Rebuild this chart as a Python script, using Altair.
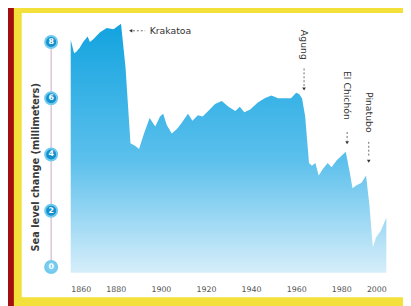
import altair as alt
import pandas as pd

# ---- data ----
years = [1860, 1861.5, 1862.5, 1864, 1865.5, 1867.5, 1868.5, 1870, 1873, 1876, 1879, 1882.3,
         1884.3, 1886.5, 1888.7, 1890.3, 1892.5, 1895, 1897.5, 1899.6, 1901, 1902.6, 1904.8,
         1907, 1909, 1912, 1914, 1916.4, 1918.5, 1921, 1924, 1927, 1930, 1933, 1935, 1937,
         1939.6, 1943, 1946, 1949, 1952, 1955, 1957.7, 1960, 1961.3, 1962.6, 1964, 1965.7,
         1967, 1968.5, 1970, 1972, 1974, 1975.7, 1978, 1980, 1982, 1983.8, 1985, 1986.6,
         1989, 1991, 1992.5, 1994, 1995.4, 1997.6, 2000]
values = [8.07, 7.6, 7.65, 7.8, 8.0, 8.2, 8.0, 8.1, 8.35, 8.5, 8.45, 8.65,
          7.1, 4.4, 4.3, 4.2, 4.75, 5.3, 5.0, 5.35, 5.45, 5.05, 4.75,
          4.9, 5.1, 5.45, 5.2, 5.4, 5.35, 5.55, 5.8, 5.9, 5.7, 5.55, 5.7, 5.5,
          5.6, 5.85, 6.0, 6.1, 6.0, 6.0, 6.0, 6.2, 6.15, 6.0, 5.35, 3.7,
          3.6, 3.7, 3.25, 3.5, 3.7, 3.55, 3.8, 3.95, 4.1, 3.35, 2.8, 2.9,
          3.0, 3.25, 2.2, 0.7, 1.05, 1.3, 1.75]

x_ticks = [1860, 1880, 1900, 1920, 1940, 1960, 1980, 2000]
y_ticks = [8, 6, 4, 2, 0]

# annotations: label, x of label, y of label, line start, line end, arrow tip
ann_labels = ["Agung", "El Chichón", "Pinatubo"]
ann_x = [1963.5, 1982.6, 1992.2]
ann_text_y = [7.9, 6.1, 5.5]
ann_line_top = [7.06, 4.8, 4.45]
ann_line_bot = [6.43, 4.5, 3.9]
ann_tip = [6.33, 4.42, 3.76]

krak_label = "Krakatoa"
krak_tip_x = 1886.6
krak_line = [1887.6, 1893.0]
krak_text_x = 1895.0
krak_y = 8.4

FONT = "DejaVu Sans"
W, H = 322, 264

df = pd.DataFrame({"year": years, "value": values})
xs = alt.Scale(domain=[1860, 2000], nice=False, zero=False)
ys = alt.Scale(domain=[-0.2, 9], nice=False, zero=False)

AX = alt.Axis(values=x_ticks, format="d", title=None, ticks=False,
              domain=False, grid=False, labelFontSize=8,
              labelColor="#555", labelFont=FONT, labelPadding=13, zindex=2)
AY = alt.Axis(labels=False, ticks=False, domain=False, grid=False,
              title="Sea level change (millimeters)", titleFont=FONT,
              titleFontSize=10, titleFontWeight="bold",
              titleColor="#3a3a3a", titlePadding=31, titleY=156, zindex=2)


def X(f):
    return alt.X(f, scale=xs, axis=AX)


def Y(f):
    return alt.Y(f, scale=ys, axis=AY)


area = alt.Chart(df).mark_area(
    color=alt.Gradient(gradient="linear",
                       stops=[alt.GradientStop(color="#12a3df", offset=0),
                              alt.GradientStop(color="#5cc0ec", offset=0.55),
                              alt.GradientStop(color="#d6eefa", offset=1)],
                       x1=1, x2=1, y1=0, y2=1),
    interpolate="linear").encode(
    x=X("year:Q"), y=Y("value:Q"), y2=alt.datum(-0.2))

one = pd.DataFrame({"a": [0]})
# frame decoration
panel = alt.Chart(one).mark_rect(color="white").encode(
    x=alt.value(-50), x2=alt.value(345), y=alt.value(-1), y2=alt.value(289))
red = alt.Chart(one).mark_rect(color="#a30f10").encode(
    x=alt.value(-70), x2=alt.value(-58), y=alt.value(-10), y2=alt.value(300))

ydf = pd.DataFrame({"value": y_ticks, "label": [str(v) for v in y_ticks],
                    "light": [v == 0 for v in y_ticks]})
yline = alt.Chart(ydf).mark_rule(color="#c8a9c8", strokeWidth=1).encode(
    x=alt.value(-20), y=Y("min(value):Q"), y2=alt.Y2("max(value):Q"))
ycirc = alt.Chart(ydf).mark_circle(size=150, opacity=1, stroke="#6fcaee",
                                   strokeWidth=2).encode(
    x=alt.value(-20), y=Y("value:Q"),
    color=alt.condition("datum.light", alt.value("#7bcdf0"), alt.value("#1590cc")))
ytext = alt.Chart(ydf).mark_text(fontSize=8, fontWeight="bold", color="white",
                                 font=FONT, baseline="middle").encode(
    x=alt.value(-20), y=Y("value:Q"), text="label:N")

adf = pd.DataFrame({"label": ann_labels, "x": ann_x, "ty": ann_text_y,
                    "l1": ann_line_top, "l2": ann_line_bot, "tip": ann_tip})
atext = alt.Chart(adf).mark_text(angle=90, fontSize=9.5, color="#333", font=FONT,
                                 align="center", baseline="middle").encode(
    x=X("x:Q"), y=Y("ty:Q"), text="label:N")
aline = alt.Chart(adf).mark_rule(color="#444", strokeWidth=0.8,
                                 strokeDash=[2, 2]).encode(
    x=X("x:Q"), y=Y("l1:Q"), y2="l2:Q")
atip = alt.Chart(adf).mark_point(shape="triangle-down", filled=True, size=14,
                                 color="#333", opacity=1).encode(
    x=X("x:Q"), y=Y("tip:Q"))

kdf = pd.DataFrame({"label": [krak_label], "tx": [krak_text_x], "x1": [krak_line[0]],
                    "x2": [krak_line[1]], "tip": [krak_tip_x], "y": [krak_y]})
ktext = alt.Chart(kdf).mark_text(fontSize=9.5, color="#333", font=FONT, align="left",
                                 baseline="middle").encode(
    x=X("tx:Q"), y=Y("y:Q"), text="label:N")
kline = alt.Chart(kdf).mark_rule(color="#444", strokeWidth=0.8,
                                 strokeDash=[2, 2]).encode(
    x=X("x1:Q"), x2="x2:Q", y=Y("y:Q"))
ktip = alt.Chart(kdf).mark_point(shape="triangle-left", filled=True, size=14,
                                 color="#333", opacity=1).encode(
    x=X("tip:Q"), y=Y("y:Q"))

chart = alt.layer(panel, red, area, yline, ycirc, ytext, atext, aline, atip,
                  ktext, kline, ktip).properties(
    width=W, height=H,
    autosize=alt.AutoSizeParams(type="none"),
    padding={"left": 64, "top": 3, "right": 17, "bottom": 31},
    background="#f3e03a",
).configure_view(stroke="#e3e3e3", strokeWidth=1)

chart.save("out.html", embed_options={"renderer": "svg", "actions": False})
